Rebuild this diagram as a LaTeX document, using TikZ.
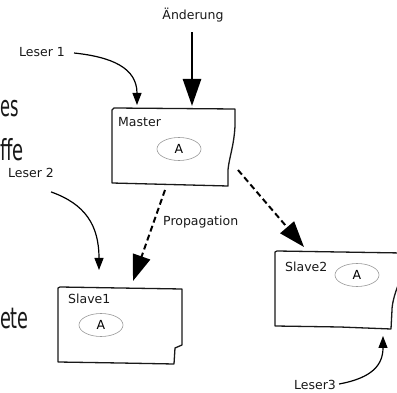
\documentclass[tikz,border=0pt]{standalone}
\usepackage{fontspec}
\setmainfont{DejaVu Sans}
\usetikzlibrary{arrows.meta}
\tikzset{
  lbl/.style={font=\fontsize{12.5}{15}\selectfont, inner sep=0pt, text=black!90},
  big/.style={font=\fontsize{29}{34}\selectfont, inner sep=0pt, anchor=base east, text=black!90},
  hbox/.style={line width=1.3pt, line join=round, black!90},
  val/.style={draw=black!40, line width=0.6pt, ellipse, minimum width=44pt, minimum height=23pt, inner sep=0pt, font=\fontsize{12.5}{15}\selectfont},
  thin arrow/.style={line width=1.2pt, -{Triangle[length=12pt,width=9pt]}},
  thick arrow/.style={line width=2.6pt, -{Triangle[length=27pt,width=18pt]}},
  prop arrow/.style={line width=2pt, dash pattern=on 6pt off 3.5pt, -{Triangle[length=26pt,width=18pt,sep=0pt]}},
}
\usetikzlibrary{shapes.geometric}
\begin{document}
\begin{tikzpicture}[x=1pt,y=-1pt]
\useasboundingbox (0,0) rectangle (397,393);
\clip (0,0) rectangle (397,393);
\fill[white] (0,0) rectangle (397,393);

% large cut-off words
\node[big] (w1) at (19,117) {\scalebox{0.56}[1]{es}};
\node[big] (w2) at (24,161) {\scalebox{0.62}[1]{ffe}};
\node[big] (w3) at (29,329) {\scalebox{0.61}[1]{ete}};

% hand-drawn boxes
\draw[hbox] (112,110) -- (114,108) -- (235,109) -- (235,126)
  .. controls (234,146) and (229,158) .. (228,170) -- (228,186) -- (112,183) -- cycle;
\draw[hbox] (58,288) -- (60,287) -- (120,288) -- (182,289) -- (182,345)
  -- (175,348) -- (174,364) -- (120,363) -- (58,362) -- cycle;
\draw[hbox] (275,252) -- (277,251) -- (340,252) -- (402,253) -- (399,283)
  .. controls (394,295) and (392,305) .. (392,310) -- (391,329) -- (340,327) -- (275,326) -- cycle;

% box anchor coordinates
\coordinate (mtop1) at (137,105);
\coordinate (mtop2) at (192,106);
\coordinate (mbot1) at (165,190);
\coordinate (mbot2) at (238,170);
\coordinate (s1top1) at (99,270);
\coordinate (s1top2) at (133,281);
\coordinate (s2top) at (304,247);
\coordinate (s2bot) at (383,336);

% labels
\node[lbl] (aend) at (193,15) {Änderung};
\node[lbl] (l1) at (42,52) {Leser 1};
\node[lbl] (l2) at (31,173) {Leser 2};
\node[lbl] (l3) at (315,385) {Leser3};
\node[lbl, anchor=west] (mas) at (118,122) {Master};
\node[lbl, anchor=west] (s1) at (68,299) {Slave1};
\node[lbl, anchor=west] (s2) at (285,267) {Slave2};
\node[lbl, anchor=west] (prop) at (163,222) {Propagation};

% values
\node[val] (am) at (179,149) {A};
\node[val] (a1) at (101,325) {A};
\node[val] (a2) at (357,275) {A};

% arrows
\draw[thin arrow] (l1.east) ++(9,1) coordinate (l1s) (l1s) .. controls (112,57) and (137,68) .. (mtop1);
\draw[thick arrow] (aend.south) ++(-1,10) coordinate (as) (as) -- (mtop2);
\draw[thin arrow] (l2.south east) ++(-3,14) coordinate (l2s) (l2s) .. controls (85,204) and (99,225) .. (s1top1);
\draw[prop arrow] (mbot1) -- (s1top2);
\draw[prop arrow] (mbot2) -- (s2top);
\draw[thin arrow] (l3.east) ++(3,-1) coordinate (l3s) (l3s) .. controls (372,378) and (383,365) .. (s2bot);
\end{tikzpicture}
\end{document}
